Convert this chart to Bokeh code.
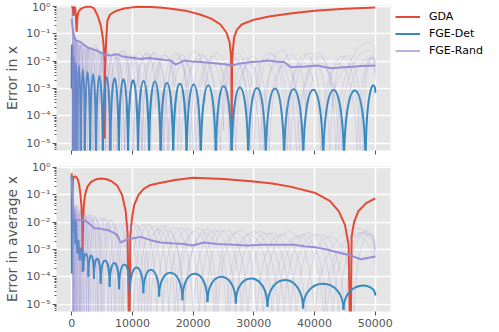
import numpy as np
from bokeh.plotting import figure
from bokeh.models import Range1d, FixedTicker, CustomJSTickFormatter, Legend, LegendItem
from bokeh.layouts import column
from bokeh.embed import file_html
from bokeh.resources import INLINE

# ---------------- data ----------------
x_ticks = [0, 10000, 20000, 30000, 40000, 50000]
y_ticks = [1e-5, 1e-4, 1e-3, 1e-2, 1e-1, 1e0]
y_minor = [m * 10.0 ** e for e in range(-6, 1) for m in range(2, 10)]
series_names = ["GDA", "FGE-Det", "FGE-Rand"]
BELOW = 1e-6   # value for dips that fall below the axis
DEEP = 1e-7

# GDA, error in x
gda_top_x = [0, 120, 200, 280, 360, 470, 560, 680, 820, 900, 1000, 1150, 1500, 2000, 2600, 3100,
             3700, 4300, 4800, 5100, 5300, 5420, 5480, 5520, 5580, 5680, 5880, 6300, 6900, 7500,
             8600, 10200, 11000, 13000, 15000, 17000, 19000, 21000, 23000, 24500, 25500, 26000,
             26200, 26300, 26350, 26400, 26500, 26750, 27200, 28000, 30000, 32500, 36000, 40000,
             45000, 50000]
gda_top_y = [0.95, 1.0, 0.75, 0.45, 0.75, 0.98, 0.9, 0.5, 0.12, 0.3, 0.5, 0.65, 0.82, 0.93, 0.98, 0.99,
             0.85, 0.45, 0.2, 0.08, 0.03, 0.008, 1.5e-5, 0.004, 0.015, 0.06, 0.3, 0.5, 0.62, 0.71,
             0.85, 0.95, 0.99, 0.97, 0.9, 0.8, 0.68, 0.52, 0.36, 0.22, 0.11, 0.05,
             0.02, 0.006, DEEP, 0.006, 0.02, 0.075, 0.14, 0.22, 0.33, 0.43, 0.56, 0.7,
             0.83, 0.92]

# GDA, error in average x
gda_bot_x = [0, 60, 120, 160, 220, 350, 550, 800, 1050, 1250, 1450, 1600, 1700, 1760, 1800, 1840,
             1900, 2000, 2200, 2600, 3200, 4000, 4800, 5600, 6500, 7500, 8300, 8900, 9200, 9500,
             9650, 9900, 10260, 11000, 11900, 13000, 14100, 17000, 20000, 25000, 30000, 33000,
             36000, 40000, 42500, 44000, 45000, 45600, 45900, 46100, 46500, 47200, 48500, 50000]
gda_bot_y = [0.62, 0.3, 0.1, 0.2, 0.35, 0.45, 0.48, 0.44, 0.35, 0.22, 0.1, 0.04, 0.012, 0.003, 1.5e-4, 0.003,
             0.015, 0.04, 0.1, 0.2, 0.3, 0.37, 0.4, 0.38, 0.32, 0.22, 0.1, 0.025, 0.004, DEEP,
             0.003, 0.012, 0.04, 0.1, 0.17, 0.23, 0.26, 0.35, 0.42, 0.38, 0.31, 0.26,
             0.2, 0.12, 0.06, 0.025, 0.008, 0.0015, DEEP, 0.003, 0.01, 0.025, 0.05, 0.075]

# FGE-Det, error in x : arches (dip positions, dip values, peak values)
det_top_dx = [0, 190, 490, 920, 1490, 2190, 3030, 4010, 5120, 6370, 7760, 9280, 10930, 12730, 14650,
              16720, 18920, 21260, 23730, 26340, 29080, 31960, 34980, 38130, 41420, 44840, 48400, 50000]
det_top_dy = [1e-3] + [BELOW] * 26 + [7e-4]
det_top_pk = [0.03, 0.016, 0.009, 0.007, 0.005, 0.004, 0.0033, 0.0029, 0.0026, 0.0024, 0.0022, 0.002,
              0.0019, 0.0018, 0.0016, 0.0015, 0.0014, 0.0013, 0.0012, 0.0011, 0.00105, 0.001, 0.00095,
              0.0009, 0.00088, 0.00085, 0.0008]

# FGE-Det, error in average x : spiky start, then arches
det_bot_x0 = [0, 30, 60, 150, 250, 380, 460, 540, 620, 710, 820, 940, 1020, 1100, 1200, 1320, 1450,
              1600, 1750, 1930]
det_bot_y0 = [0.5, 1.3e-4, 0.3, 0.05, 0.027, 0.004, 0.02, 0.0016, 0.006, 0.0117, 0.002, 7e-4, 0.0015,
              0.0022, 0.001, 4e-4, 8e-4, 0.0012, 7e-4, 1.7e-4]
det_bot_dx = [1930, 2750, 3670, 4780, 6260, 7800, 9600, 11800, 14400, 18240, 22360, 27020, 32240,
              38100, 44760, 50000]
det_bot_dy = [1.7e-4, 1e-4, 8.6e-5, 5.6e-5, 4.3e-5, 3.5e-5, 2.8e-5, 2.5e-5, 1.9e-5, 1.4e-5, 1.2e-5,
              1.07e-5, 8e-6, 7e-6, 6.3e-6, 2.1e-5]
det_bot_pk = [7e-4, 6e-4, 4.6e-4, 4e-4, 3.2e-4, 2.8e-4, 2.2e-4, 1.8e-4, 1.4e-4, 1.3e-4, 1e-4, 8.7e-5,
              7.6e-5, 5.6e-5, 4.6e-5]

# FGE-Rand mean
rand_top_x = [0, 100, 300, 660, 1000, 1480, 2000, 2590, 3300, 4230, 5320, 6420, 7530, 8300, 9180,
              10300, 11370, 12700, 14120, 15300, 16310, 17130, 18500, 19800, 21250, 22600, 24000,
              25200, 26190, 27000, 27840, 29490, 31000, 32240, 33600, 34980, 36080, 37200, 38270,
              39400, 40480, 41600, 42670, 43800, 44860, 46200, 47630, 49000, 50000]
rand_top_y = [0.35, 0.2, 0.1, 0.057, 0.055, 0.05, 0.04, 0.032, 0.028, 0.024, 0.018, 0.016, 0.018,
              0.015, 0.014, 0.013, 0.012, 0.013, 0.012, 0.011, 0.0105, 0.0075, 0.0105, 0.0098, 0.0093,
              0.0088, 0.0083, 0.0078, 0.0069, 0.0075, 0.0083, 0.0093, 0.0098, 0.0105, 0.0098, 0.0093,
              0.006, 0.0062, 0.0063, 0.0066, 0.0069, 0.0062, 0.0055, 0.0057, 0.006, 0.0063, 0.0066,
              0.0068, 0.0069]
rand_bot_x = [0, 150, 380, 800, 1480, 2000, 2590, 3100, 3670, 4780, 6150, 7000, 7530, 8070, 8800,
              9720, 11370, 13010, 14660, 16500, 18500, 19880, 21800, 24000, 26740, 29000, 31140,
              34000, 36620, 38500, 40200, 42000, 43770, 45960, 47610, 50000]
rand_bot_y = [0.4, 0.1, 0.0134, 0.012, 0.0117, 0.012, 0.0101, 0.008, 0.0061, 0.0057, 0.005, 0.004,
              0.0033, 0.0018, 0.0022, 0.0025, 0.0029, 0.0022, 0.0018, 0.0017, 0.0016, 0.0014, 0.0018,
              0.0016, 0.0015, 0.0014, 0.0015, 0.0015, 0.0015, 0.0013, 0.0012, 0.001, 0.0008, 0.0006,
              0.00044, 0.00056]

# FGE-Rand individual runs (faint): dips, dip values, peaks
runs_top_dx = [
    [0, 250, 700, 1400, 2500, 4200, 6500, 9500, 13000, 17500, 22000, 27000, 32500, 38500, 44000, 50000],
    [0, 150, 500, 1100, 2000, 3300, 5000, 7300, 10000, 13800, 18000, 23500, 29000, 35000, 41000, 47000, 50000],
    [0, 350, 900, 1700, 2900, 4600, 6900, 10200, 14500, 19000, 24500, 30000, 36000, 42500, 48000, 50000],
    [0, 200, 600, 1250, 2200, 3700, 5600, 8000, 11000, 15000, 20000, 25000, 31000, 37000, 43000, 50000],
    [0, 300, 800, 1500, 2600, 4000, 6000, 8700, 12000, 16000, 21000, 26500, 32000, 38000, 44500, 50000],
    [0, 120, 450, 1000, 1900, 3000, 4500, 6300, 8700, 11600, 15200, 19500, 24000, 29500, 35500, 41500, 47500, 50000],
    [0, 400, 1000, 2000, 3500, 5500, 8200, 11500, 15800, 20500, 26000, 31500, 37500, 43500, 50000],
]
runs_top_dy = [
    [0.8, BELOW, 1e-5, BELOW, 2e-4, BELOW, BELOW, 5e-5, BELOW, BELOW, 3e-4, BELOW, BELOW, 1e-4, BELOW, 0.01],
    [0.5, BELOW, BELOW, 3e-5, BELOW, BELOW, 1e-4, BELOW, BELOW, 2e-4, BELOW, BELOW, 5e-5, BELOW, BELOW, BELOW, 0.006],
    [1.0, BELOW, BELOW, BELOW, BELOW, 3e-4, BELOW, BELOW, BELOW, 1e-4, BELOW, BELOW, BELOW, BELOW, BELOW, 0.003],
    [0.3, BELOW, BELOW, BELOW, BELOW, BELOW, BELOW, 1e-4, BELOW, BELOW, BELOW, 3e-5, BELOW, BELOW, 2e-4, 0.004],
    [0.6, BELOW, BELOW, BELOW, BELOW, BELOW, BELOW, BELOW, BELOW, BELOW, BELOW, BELOW, BELOW, BELOW, BELOW, 0.008],
    [0.9, BELOW, BELOW, BELOW, BELOW, 1e-5, BELOW, BELOW, BELOW, BELOW, BELOW, BELOW, BELOW, BELOW, BELOW, BELOW, BELOW, 0.002],
    [0.4, BELOW, BELOW, BELOW, BELOW, BELOW, BELOW, BELOW, BELOW, BELOW, BELOW, BELOW, BELOW, BELOW, 0.02],
]
runs_top_pk = [
    [0.1, 0.06, 0.045, 0.035, 0.03, 0.025, 0.022, 0.02, 0.018, 0.02, 0.017, 0.015, 0.016, 0.014, 0.013],
    [0.15, 0.08, 0.05, 0.04, 0.03, 0.028, 0.02, 0.018, 0.016, 0.014, 0.012, 0.011, 0.01, 0.009, 0.008, 0.007],
    [0.2, 0.07, 0.05, 0.04, 0.035, 0.03, 0.025, 0.02, 0.018, 0.016, 0.02, 0.018, 0.02, 0.016, 0.01],
    [0.09, 0.07, 0.05, 0.04, 0.03, 0.02, 0.018, 0.016, 0.014, 0.012, 0.01, 0.009, 0.009, 0.008, 0.009],
    [0.12, 0.05, 0.04, 0.03, 0.022, 0.018, 0.014, 0.012, 0.011, 0.01, 0.009, 0.008, 0.007, 0.006, 0.006],
    [0.3, 0.1, 0.06, 0.04, 0.03, 0.022, 0.02, 0.018, 0.016, 0.02, 0.018, 0.016, 0.014, 0.02, 0.018, 0.015, 0.008],
    [0.08, 0.05, 0.035, 0.028, 0.024, 0.02, 0.018, 0.02, 0.017, 0.015, 0.013, 0.025, 0.02, 0.022],
]
runs_bot_dx = [
    [0, 300, 900, 1900, 3500, 6000, 9500, 14000, 20000, 27000, 35000, 43000, 50000],
    [0, 200, 700, 1500, 2800, 4800, 7800, 12000, 17500, 24000, 31500, 40000, 50000],
    [0, 400, 1200, 2400, 4200, 7000, 11000, 16000, 22000, 29000, 37000, 45000, 50000],
    [0, 250, 800, 1700, 3100, 5300, 8500, 13000, 18500, 25500, 33000, 41500, 50000],
    [0, 150, 550, 1300, 2500, 4400, 7300, 11500, 17000, 23500, 30500, 38500, 46500, 50000],
    [0, 350, 1000, 2100, 3900, 6500, 10200, 15000, 21000, 28000, 36000, 44000, 50000],
    [0, 500, 1400, 2800, 5000, 8200, 12500, 18500, 26000, 34000, 42000, 50000],
]
runs_bot_dy = [
    [0.5] + [BELOW] * 11 + [3e-4],
    [0.3] + [BELOW] * 11 + [1e-3],
    [0.6] + [BELOW] * 11 + [5e-4],
    [0.4] + [BELOW] * 11 + [1e-4],
    [0.2] + [BELOW] * 12 + [1e-3],
    [0.7] + [BELOW] * 11 + [1.5e-3],
    [0.45] + [BELOW] * 10 + [8e-4],
]
runs_bot_pk = [
    [0.06, 0.04, 0.025, 0.02, 0.014, 0.01, 0.008, 0.006, 0.005, 0.0045, 0.004, 0.003],
    [0.05, 0.03, 0.03, 0.02, 0.015, 0.012, 0.009, 0.007, 0.006, 0.005, 0.0045, 0.004],
    [0.08, 0.035, 0.025, 0.018, 0.014, 0.01, 0.007, 0.0055, 0.005, 0.004, 0.0035, 0.003],
    [0.05, 0.03, 0.022, 0.016, 0.012, 0.009, 0.007, 0.005, 0.004, 0.0035, 0.003, 0.0028],
    [0.04, 0.03, 0.02, 0.016, 0.012, 0.009, 0.007, 0.0055, 0.0045, 0.004, 0.0035, 0.003, 0.0025],
    [0.07, 0.04, 0.025, 0.018, 0.014, 0.01, 0.008, 0.006, 0.005, 0.004, 0.0035, 0.003],
    [0.1, 0.04, 0.025, 0.016, 0.012, 0.009, 0.007, 0.0055, 0.0045, 0.0035, 0.003],
]

# ---------------- styling ----------------
RED, BLUE, PURPLE = "#E24A33", "#348ABD", "#988ED5"
GRAY = "#555555"
FONT = "DejaVu Sans"

SUP = CustomJSTickFormatter(code="""
const m = {'-':'\u207b','0':'\u2070','1':'\u00b9','2':'\u00b2','3':'\u00b3','4':'\u2074',
           '5':'\u2075','6':'\u2076','7':'\u2077','8':'\u2078','9':'\u2079'};
const e = Math.round(Math.log10(tick));
return '10' + String(e).split('').map(c => m[c]).join('');
""")


def arches(p, dx, dy, pk, **kw):
    dx = np.asarray(dx, float)
    dy = np.asarray(dy, float)
    pk = np.asarray(pk, float)
    l0, l1, lp = np.log10(dy[:-1]), np.log10(dy[1:]), np.log10(pk)
    c = 10 ** ((lp - 0.125 * (l0 + l1)) / 0.75)
    return p.bezier(x0=dx[:-1], y0=dy[:-1], x1=dx[1:], y1=dy[1:],
                    cx0=dx[:-1], cy0=c, cx1=dx[1:], cy1=c, **kw)


def make_fig(ylabel, show_xlabels, top, bottom, right):
    p = figure(frame_width=334, frame_height=145,
               x_range=Range1d(-2500, 52500), y_range=Range1d(5.4e-6, 1.09),
               y_axis_type="log", output_backend="svg", toolbar_location=None, tools="",
               min_border_left=56, min_border_top=top, min_border_bottom=bottom,
               min_border_right=right)
    p.background_fill_color = "#E5E5E5"
    p.border_fill_color = "white"
    p.outline_line_color = None
    p.xaxis.ticker = FixedTicker(ticks=x_ticks, minor_ticks=[])
    p.yaxis.ticker = FixedTicker(ticks=y_ticks, minor_ticks=y_minor)
    p.yaxis.formatter = SUP
    if not show_xlabels:
        p.xaxis.formatter = CustomJSTickFormatter(code="return ''")
        p.xaxis.major_label_standoff = 0
    else:
        p.xaxis.major_label_standoff = 3
    for ax in p.axis:
        ax.axis_line_color = None
        ax.major_tick_line_color = GRAY
        ax.minor_tick_line_color = GRAY
        ax.major_tick_in = 0
        ax.major_tick_out = 4
        ax.minor_tick_in = 0
        ax.minor_tick_out = 2
        ax.major_label_text_color = GRAY
        ax.major_label_text_font = FONT
        ax.major_label_text_font_size = "11px"
    p.yaxis.major_label_standoff = 2
    p.yaxis.axis_label = ylabel
    p.yaxis.axis_label_text_font = FONT
    p.yaxis.axis_label_text_font_size = "14px"
    p.yaxis.axis_label_text_font_style = "normal"
    p.yaxis.axis_label_text_color = GRAY
    p.yaxis.axis_label_standoff = 3
    p.grid.grid_line_color = "white"
    p.grid.grid_line_width = 1.5
    p.ygrid.minor_grid_line_color = None
    return p


p1 = make_fig("Error in x", False, 5, 8, 110)
p2 = make_fig("Error in average x", True, 8, 21, 10)

# top panel
r_gda = p1.line(gda_top_x, gda_top_y, line_color=RED, line_width=2)
arches(p1, det_top_dx, det_top_dy, det_top_pk, line_color=BLUE, line_width=2)
for dx, dy, pk in zip(runs_top_dx, runs_top_dy, runs_top_pk):
    arches(p1, dx, dy, pk, line_color=PURPLE, line_width=1, line_alpha=0.22)
p1.line(rand_top_x, rand_top_y, line_color=PURPLE, line_width=2)

# bottom panel
p2.line(gda_bot_x, gda_bot_y, line_color=RED, line_width=2)
p2.line(det_bot_x0, det_bot_y0, line_color=BLUE, line_width=2)
arches(p2, det_bot_dx, det_bot_dy, det_bot_pk, line_color=BLUE, line_width=2)
for dx, dy, pk in zip(runs_bot_dx, runs_bot_dy, runs_bot_pk):
    arches(p2, dx, dy, pk, line_color=PURPLE, line_width=1, line_alpha=0.22)
p2.line(rand_bot_x, rand_bot_y, line_color=PURPLE, line_width=2)

# legend keys: single starting points of each series (draw no visible line themselves)
r_det = p1.line(det_top_dx[:1], det_top_dy[:1], line_color=BLUE, line_width=2)
r_rand = p1.line(rand_top_x[:1], rand_top_y[:1], line_color=PURPLE, line_width=2, line_alpha=0.7)
legend = Legend(items=[LegendItem(label=series_names[0], renderers=[r_gda]),
                       LegendItem(label=series_names[1], renderers=[r_det]),
                       LegendItem(label=series_names[2], renderers=[r_rand])],
                location="top_left", margin=0, padding=5, spacing=4,
                glyph_width=25, glyph_height=13, label_height=13, label_standoff=9,
                label_text_font=FONT, label_text_font_size="11px", label_text_color="black",
                background_fill_alpha=0, border_line_alpha=0)
p1.add_layout(legend, "right")

layout = column(p1, p2, styles={"position": "absolute", "left": "0px", "top": "0px"})
open("out.html", "w").write(file_html(layout, INLINE))
